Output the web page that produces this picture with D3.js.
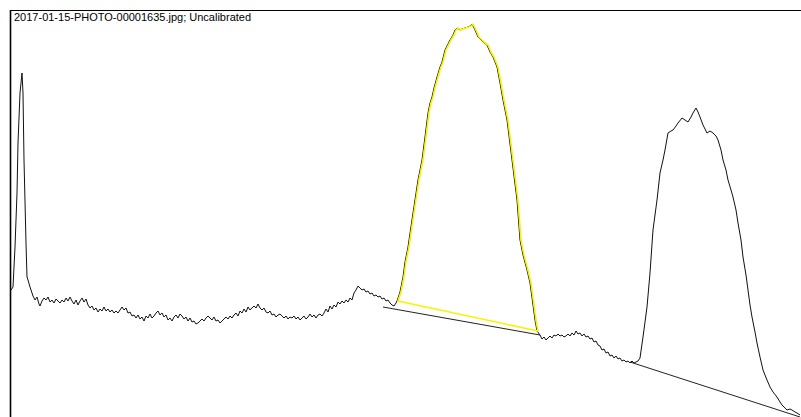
<!DOCTYPE html>
<html>
<head>
<meta charset="utf-8">
<script src="https://cdn.jsdelivr.net/npm/d3@7"></script>
<style>
  html, body { margin: 0; padding: 0; background: #fff; }
  svg { display: block; }
</style>
</head>
<body>
<svg id="chart" width="801" height="417"></svg>
<script>
// ---- Data (lane position in px along the lane, intensity above plot bottom) ----
const title = "2017-01-15-PHOTO-00001635.jpg; Uncalibrated";

// Profile points as [x, y] screen estimates, converted to data
const profileXY = [
[11,290],[13,287],[15,247],[17,193],[18,143],[20,93],[22,73],[23,93],[24,160],[26,243],[27,277],[28,280],[30,287],[32,293],
[33,296],[35,300],[37,297],[39,304],[40,306],[42,301],[44,298],[46,300],[48,297],[50,302],[52,300],[54,303],[56,299],[58,301],[60,303],[62,300],[64,302],[66,298],[68,301],[70,297],[72,301],[74,304],[76,300],[78,305],[80,301],[82,298],[84,302],[86,299],[88,305],[90,308],[92,306],[94,310],[96,308],[98,312],[100,309],[102,311],[104,307],[106,311],[108,309],[110,312],[112,310],[114,313],[116,311],[118,313],[120,310],[122,307],[124,310],[126,308],[128,313],[130,312],[132,316],[134,315],[136,318],[138,315],[140,319],[142,317],[144,321],[146,316],[148,318],[150,314],[152,318],[154,316],[156,313],[158,311],[160,315],[162,313],[164,317],[166,315],[168,320],[170,318],[172,321],[174,317],[176,315],[178,318],[180,314],[182,316],[184,319],[186,317],[188,321],[190,318],[192,322],[194,321],[196,324],[198,323],[200,321],[202,319],[204,321],[206,318],[208,316],[210,318],[212,320],[214,317],[216,321],[218,320],[220,323],[222,321],[224,319],[226,317],[228,319],[230,316],[232,318],[234,315],[236,313],[238,316],[240,311],[242,313],[244,309],[246,312],[248,307],[250,310],[252,308],[254,306],[256,308],[258,304],[260,308],[262,310],[264,308],[266,312],[268,313],[270,311],[272,315],[274,314],[276,317],[278,315],[280,314],[282,316],[284,318],[286,316],[288,319],[290,317],[292,318],[294,316],[296,319],[298,317],[300,320],[302,318],[304,316],[306,319],[308,317],[310,314],[312,317],[314,315],[316,318],[318,315],[320,314],[322,316],[324,313],[326,309],[328,312],[330,306],[332,309],[334,305],[336,307],[338,302],[340,304],[342,301],[344,303],[346,300],[348,302],[350,298],[352,300],[354,293],[356,290],[358,286],[360,288],[362,290],[364,289],[366,292],[368,291],[370,294],[372,293],[374,296],[376,295],[378,297],[380,296],[382,299],[384,298],[386,301],[388,300],[390,303],[392,305],[394,306],[396,303],
[397,301],[400,292],[403,277],[405,262],[408,247],[413,213],[418,180],[422,160],[425,137],[428,113],[430,103],[432,97],[434,88],[437,77],[440,67],[442,62],[445,50],[450,40],[453,35],[455,30],[457,28],[460,30],[462,29],[465,28],[468,27],[470,26],[472,24],[475,30],[478,37],[481,40],[483,42],[487,45],[490,52],[493,57],[497,67],[500,83],[503,100],[507,120],[512,160],[517,200],[520,240],[523,255],[527,270],[530,283],[533,305],[535,320],[537,331],
[540,335],[542,339],[544,337],[546,340],[548,338],[550,336],[552,338],[554,335],[556,336],[558,334],[560,336],[562,335],[564,337],[566,336],[568,334],[570,336],[572,333],[574,335],[576,331],[578,334],[580,333],[582,336],[584,334],[586,337],[588,336],[590,339],[592,338],[594,342],[596,341],[598,345],[600,346],[602,350],[604,349],[606,353],[608,352],[610,356],[612,355],[614,358],[616,356],[618,359],[620,358],[622,361],[624,360],[626,362],[628,361],[630,363],[632,361],[634,363],[636,362],[638,361],[640,358],
[643,337],[647,307],[650,273],[653,230],[657,200],[660,173],[663,160],[665,150],[668,133],[671,131],[673,130],[676,126],[678,123],[682,118],[685,120],[688,122],[691,117],[693,113],[696,108],[698,112],[700,117],[703,125],[707,133],[710,131],[713,133],[716,136],[718,140],[721,150],[723,160],[726,170],[728,180],[731,190],[733,197],[736,210],[738,223],[741,240],[743,257],[746,275],[748,290],[750,305],[752,317],[755,332],[757,343],[760,357],[763,370],[767,380],[770,387],[773,392],[777,397],[780,402],[782,405],[785,408],[787,410],[790,409],[792,410],[795,412],[797,413],[800,415]
];
const positions = profileXY.map(d => d[0] - 10);
const intensity = profileXY.map(d => 417 - d[1]);

// Baseline segments drawn under each peak: [position, intensity]
const baseline1 = [[373, 110], [530, 82]];
const baseline2 = [[620, 55], [790, 0]];

// Selected (highlighted) peak range, in lane positions
const selectedPeak = [387, 527];

// ---- Drawing ----
const W = 801, H = 417;
const svg = d3.select("#chart");
const x = d3.scaleLinear().domain([0, 791]).range([10, 801]);
const y = d3.scaleLinear().domain([0, 407]).range([417, 10]);

const pts = positions.map((p, i) => ({ p, v: intensity[i] }));
const line = d3.line().x(d => x(d.p)).y(d => y(d.v));

// frame (left and top)
svg.append("line").attr("x1", 10.5).attr("x2", 10.5).attr("y1", 10).attr("y2", H)
  .attr("stroke", "#000").attr("stroke-width", 1.6);
svg.append("line").attr("x1", 10).attr("x2", W).attr("y1", 10.5).attr("y2", 10.5)
  .attr("stroke", "#000").attr("stroke-width", 1.2);

// title
svg.append("text").attr("x", 14).attr("y", 21)
  .attr("font-family", "'Liberation Sans', Arial, sans-serif")
  .attr("font-size", 11).attr("fill", "#000").text(title);

// profile
svg.append("path").datum(pts).attr("d", line)
  .attr("fill", "none").attr("stroke", "#111").attr("stroke-width", 1);

// baselines
[baseline1, baseline2].forEach(b => {
  svg.append("line")
    .attr("x1", x(b[0][0])).attr("y1", y(b[0][1]))
    .attr("x2", x(b[1][0])).attr("y2", y(b[1][1]))
    .attr("stroke", "#222").attr("stroke-width", 1);
});

// selected peak outline (yellow)
const sel = pts.filter(d => d.p >= selectedPeak[0] && d.p <= selectedPeak[1]);
svg.append("path").datum(sel)
  .attr("d", line(sel) + "Z")
  .attr("transform", "translate(1,0)")
  .attr("fill", "none").attr("stroke", "#f5f500").attr("stroke-width", 1.6)
  .attr("stroke-linejoin", "round");
</script>
</body>
</html>
